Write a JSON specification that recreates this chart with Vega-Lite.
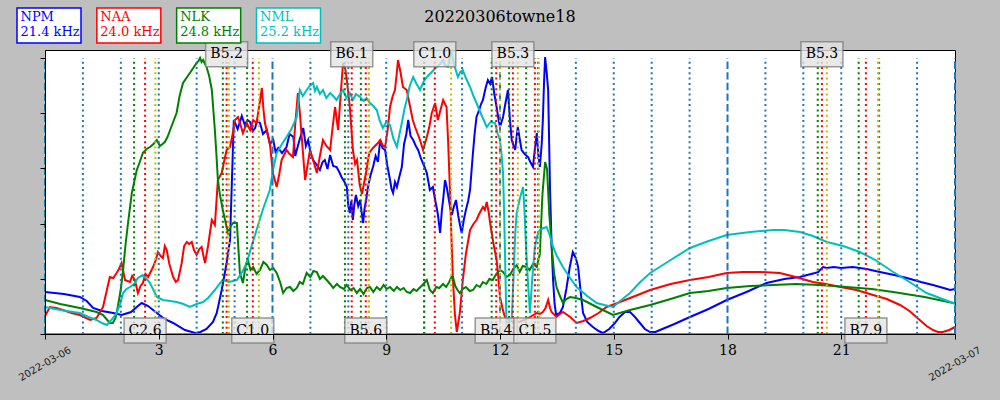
{
"$schema": "https://vega.github.io/schema/vega-lite/v6.json",
"width": 910, "height": 284,
"autosize": {"type": "none"},
"padding": {"left": 45, "top": 50, "right": 45, "bottom": 66},
"background": "#bfbfbf",
"config": {"view": {"stroke": "black", "strokeWidth": 1, "fill": "white"}},
"title": {"text": "20220306towne18", "font": "DejaVu Serif", "fontSize": 16, "fontWeight": "normal", "color": "black", "anchor": "middle", "frame": "group", "baseline": "alphabetic", "offset": -33.5},
"datasets": {
"vlf": [
{"s":"NPM","t":0,"v":42},{"s":"NPM","t":0.5,"v":40},{"s":"NPM","t":0.92,"v":37},{"s":"NPM","t":1.1,"v":33},{"s":"NPM","t":1.27,"v":26},{"s":"NPM","t":1.5,"v":23},{"s":"NPM","t":1.8,"v":21},{"s":"NPM","t":2.02,"v":19},{"s":"NPM","t":2.27,"v":22},{"s":"NPM","t":2.45,"v":28},{"s":"NPM","t":2.55,"v":31},{"s":"NPM","t":2.72,"v":28},{"s":"NPM","t":2.95,"v":21},{"s":"NPM","t":3.15,"v":15},{"s":"NPM","t":3.38,"v":11},{"s":"NPM","t":3.69,"v":4},{"s":"NPM","t":3.96,"v":1},{"s":"NPM","t":4.1,"v":2},{"s":"NPM","t":4.26,"v":5},{"s":"NPM","t":4.43,"v":12},{"s":"NPM","t":4.53,"v":21},{"s":"NPM","t":4.66,"v":44},{"s":"NPM","t":4.79,"v":71},{"s":"NPM","t":4.88,"v":94},{"s":"NPM","t":4.93,"v":154},{"s":"NPM","t":4.98,"v":214},{"s":"NPM","t":5.08,"v":205},{"s":"NPM","t":5.19,"v":218},{"s":"NPM","t":5.27,"v":209},{"s":"NPM","t":5.34,"v":214},{"s":"NPM","t":5.41,"v":212},{"s":"NPM","t":5.48,"v":203},{"s":"NPM","t":5.54,"v":206},{"s":"NPM","t":5.6,"v":214},{"s":"NPM","t":5.67,"v":211},{"s":"NPM","t":5.75,"v":200},{"s":"NPM","t":5.85,"v":204},{"s":"NPM","t":5.93,"v":190},{"s":"NPM","t":6.02,"v":194},{"s":"NPM","t":6.08,"v":182},{"s":"NPM","t":6.15,"v":186},{"s":"NPM","t":6.25,"v":181},{"s":"NPM","t":6.37,"v":187},{"s":"NPM","t":6.45,"v":200},{"s":"NPM","t":6.55,"v":197},{"s":"NPM","t":6.6,"v":178},{"s":"NPM","t":6.64,"v":184},{"s":"NPM","t":6.72,"v":195},{"s":"NPM","t":6.81,"v":206},{"s":"NPM","t":6.88,"v":188},{"s":"NPM","t":6.94,"v":194},{"s":"NPM","t":7.01,"v":180},{"s":"NPM","t":7.07,"v":174},{"s":"NPM","t":7.15,"v":170},{"s":"NPM","t":7.25,"v":164},{"s":"NPM","t":7.32,"v":172},{"s":"NPM","t":7.38,"v":174},{"s":"NPM","t":7.45,"v":165},{"s":"NPM","t":7.52,"v":179},{"s":"NPM","t":7.6,"v":168},{"s":"NPM","t":7.69,"v":167},{"s":"NPM","t":7.76,"v":162},{"s":"NPM","t":7.82,"v":157},{"s":"NPM","t":7.9,"v":152},{"s":"NPM","t":7.96,"v":147},{"s":"NPM","t":8.0,"v":128},{"s":"NPM","t":8.04,"v":121},{"s":"NPM","t":8.08,"v":133},{"s":"NPM","t":8.12,"v":114},{"s":"NPM","t":8.16,"v":130},{"s":"NPM","t":8.2,"v":139},{"s":"NPM","t":8.26,"v":128},{"s":"NPM","t":8.31,"v":134},{"s":"NPM","t":8.35,"v":122},{"s":"NPM","t":8.39,"v":111},{"s":"NPM","t":8.43,"v":126},{"s":"NPM","t":8.47,"v":134},{"s":"NPM","t":8.52,"v":147},{"s":"NPM","t":8.58,"v":158},{"s":"NPM","t":8.65,"v":167},{"s":"NPM","t":8.72,"v":178},{"s":"NPM","t":8.78,"v":172},{"s":"NPM","t":8.84,"v":194},{"s":"NPM","t":8.9,"v":186},{"s":"NPM","t":8.97,"v":184},{"s":"NPM","t":9.03,"v":168},{"s":"NPM","t":9.1,"v":154},{"s":"NPM","t":9.14,"v":145},{"s":"NPM","t":9.18,"v":141},{"s":"NPM","t":9.23,"v":152},{"s":"NPM","t":9.28,"v":147},{"s":"NPM","t":9.35,"v":158},{"s":"NPM","t":9.41,"v":167},{"s":"NPM","t":9.47,"v":190},{"s":"NPM","t":9.53,"v":200},{"s":"NPM","t":9.58,"v":214},{"s":"NPM","t":9.64,"v":198},{"s":"NPM","t":9.71,"v":194},{"s":"NPM","t":9.78,"v":188},{"s":"NPM","t":9.84,"v":184},{"s":"NPM","t":9.92,"v":175},{"s":"NPM","t":10.0,"v":168},{"s":"NPM","t":10.07,"v":161},{"s":"NPM","t":10.15,"v":144},{"s":"NPM","t":10.23,"v":147},{"s":"NPM","t":10.3,"v":132},{"s":"NPM","t":10.36,"v":120},{"s":"NPM","t":10.42,"v":101},{"s":"NPM","t":10.47,"v":125},{"s":"NPM","t":10.5,"v":134},{"s":"NPM","t":10.55,"v":154},{"s":"NPM","t":10.6,"v":146},{"s":"NPM","t":10.63,"v":139},{"s":"NPM","t":10.68,"v":128},{"s":"NPM","t":10.73,"v":119},{"s":"NPM","t":10.78,"v":127},{"s":"NPM","t":10.84,"v":134},{"s":"NPM","t":10.9,"v":118},{"s":"NPM","t":10.95,"v":108},{"s":"NPM","t":10.99,"v":101},{"s":"NPM","t":11.05,"v":115},{"s":"NPM","t":11.1,"v":124},{"s":"NPM","t":11.16,"v":133},{"s":"NPM","t":11.21,"v":144},{"s":"NPM","t":11.28,"v":178},{"s":"NPM","t":11.33,"v":200},{"s":"NPM","t":11.38,"v":217},{"s":"NPM","t":11.45,"v":224},{"s":"NPM","t":11.5,"v":230},{"s":"NPM","t":11.55,"v":234},{"s":"NPM","t":11.62,"v":246},{"s":"NPM","t":11.68,"v":254},{"s":"NPM","t":11.74,"v":250},{"s":"NPM","t":11.79,"v":257},{"s":"NPM","t":11.85,"v":240},{"s":"NPM","t":11.91,"v":227},{"s":"NPM","t":11.96,"v":215},{"s":"NPM","t":12.0,"v":207},{"s":"NPM","t":12.04,"v":212},{"s":"NPM","t":12.08,"v":217},{"s":"NPM","t":12.14,"v":230},{"s":"NPM","t":12.21,"v":244},{"s":"NPM","t":12.26,"v":215},{"s":"NPM","t":12.31,"v":194},{"s":"NPM","t":12.36,"v":188},{"s":"NPM","t":12.4,"v":184},{"s":"NPM","t":12.44,"v":198},{"s":"NPM","t":12.47,"v":207},{"s":"NPM","t":12.52,"v":195},{"s":"NPM","t":12.57,"v":184},{"s":"NPM","t":12.65,"v":180},{"s":"NPM","t":12.74,"v":177},{"s":"NPM","t":12.8,"v":172},{"s":"NPM","t":12.87,"v":167},{"s":"NPM","t":12.92,"v":185},{"s":"NPM","t":12.97,"v":201},{"s":"NPM","t":13.01,"v":180},{"s":"NPM","t":13.05,"v":167},{"s":"NPM","t":13.1,"v":190},{"s":"NPM","t":13.13,"v":214},{"s":"NPM","t":13.16,"v":250},{"s":"NPM","t":13.19,"v":277},{"s":"NPM","t":13.23,"v":262},{"s":"NPM","t":13.27,"v":244},{"s":"NPM","t":13.32,"v":144},{"s":"NPM","t":13.36,"v":90},{"s":"NPM","t":13.4,"v":54},{"s":"NPM","t":13.44,"v":30},{"s":"NPM","t":13.48,"v":19},{"s":"NPM","t":13.58,"v":21},{"s":"NPM","t":13.66,"v":27},{"s":"NPM","t":13.75,"v":45},{"s":"NPM","t":13.84,"v":67},{"s":"NPM","t":13.92,"v":82},{"s":"NPM","t":14.0,"v":76},{"s":"NPM","t":14.06,"v":67},{"s":"NPM","t":14.12,"v":45},{"s":"NPM","t":14.19,"v":21},{"s":"NPM","t":14.3,"v":12},{"s":"NPM","t":14.45,"v":7},{"s":"NPM","t":14.6,"v":3},{"s":"NPM","t":14.72,"v":1},{"s":"NPM","t":14.88,"v":5},{"s":"NPM","t":15.03,"v":11},{"s":"NPM","t":15.15,"v":17},{"s":"NPM","t":15.3,"v":22},{"s":"NPM","t":15.43,"v":22},{"s":"NPM","t":15.56,"v":17},{"s":"NPM","t":15.69,"v":11},{"s":"NPM","t":15.82,"v":5},{"s":"NPM","t":15.96,"v":2},{"s":"NPM","t":16.1,"v":2},{"s":"NPM","t":16.22,"v":4},{"s":"NPM","t":16.6,"v":10},{"s":"NPM","t":17.01,"v":17},{"s":"NPM","t":17.5,"v":25},{"s":"NPM","t":17.98,"v":34},{"s":"NPM","t":18.5,"v":42},{"s":"NPM","t":19.03,"v":51},{"s":"NPM","t":19.5,"v":55},{"s":"NPM","t":19.91,"v":57},{"s":"NPM","t":20.1,"v":59},{"s":"NPM","t":20.31,"v":61},{"s":"NPM","t":20.4,"v":62},{"s":"NPM","t":20.44,"v":64},{"s":"NPM","t":20.52,"v":67},{"s":"NPM","t":20.62,"v":66},{"s":"NPM","t":20.8,"v":67},{"s":"NPM","t":21.0,"v":66},{"s":"NPM","t":21.3,"v":67},{"s":"NPM","t":21.67,"v":65},{"s":"NPM","t":22.02,"v":62},{"s":"NPM","t":22.4,"v":59},{"s":"NPM","t":22.73,"v":56},{"s":"NPM","t":23.1,"v":52},{"s":"NPM","t":23.42,"v":49},{"s":"NPM","t":23.7,"v":46},{"s":"NPM","t":23.87,"v":44},{"s":"NPM","t":24,"v":45},
{"s":"NAA","t":0,"v":18},{"s":"NAA","t":0.13,"v":27},{"s":"NAA","t":0.3,"v":26},{"s":"NAA","t":0.47,"v":24},{"s":"NAA","t":0.7,"v":21},{"s":"NAA","t":0.92,"v":19},{"s":"NAA","t":1.19,"v":14},{"s":"NAA","t":1.36,"v":16},{"s":"NAA","t":1.53,"v":27},{"s":"NAA","t":1.62,"v":42},{"s":"NAA","t":1.71,"v":57},{"s":"NAA","t":1.8,"v":56},{"s":"NAA","t":1.89,"v":61},{"s":"NAA","t":1.95,"v":65},{"s":"NAA","t":2.02,"v":71},{"s":"NAA","t":2.11,"v":54},{"s":"NAA","t":2.24,"v":52},{"s":"NAA","t":2.3,"v":58},{"s":"NAA","t":2.37,"v":54},{"s":"NAA","t":2.45,"v":41},{"s":"NAA","t":2.52,"v":48},{"s":"NAA","t":2.58,"v":51},{"s":"NAA","t":2.65,"v":60},{"s":"NAA","t":2.72,"v":57},{"s":"NAA","t":2.85,"v":67},{"s":"NAA","t":2.92,"v":74},{"s":"NAA","t":2.98,"v":82},{"s":"NAA","t":3.05,"v":78},{"s":"NAA","t":3.11,"v":76},{"s":"NAA","t":3.16,"v":88},{"s":"NAA","t":3.21,"v":84},{"s":"NAA","t":3.28,"v":70},{"s":"NAA","t":3.38,"v":57},{"s":"NAA","t":3.45,"v":52},{"s":"NAA","t":3.51,"v":54},{"s":"NAA","t":3.6,"v":70},{"s":"NAA","t":3.67,"v":88},{"s":"NAA","t":3.74,"v":92},{"s":"NAA","t":3.8,"v":90},{"s":"NAA","t":3.87,"v":92},{"s":"NAA","t":3.93,"v":84},{"s":"NAA","t":4.0,"v":79},{"s":"NAA","t":4.07,"v":85},{"s":"NAA","t":4.13,"v":87},{"s":"NAA","t":4.18,"v":78},{"s":"NAA","t":4.22,"v":71},{"s":"NAA","t":4.3,"v":88},{"s":"NAA","t":4.4,"v":114},{"s":"NAA","t":4.48,"v":109},{"s":"NAA","t":4.56,"v":154},{"s":"NAA","t":4.66,"v":161},{"s":"NAA","t":4.72,"v":172},{"s":"NAA","t":4.79,"v":184},{"s":"NAA","t":4.88,"v":187},{"s":"NAA","t":4.95,"v":200},{"s":"NAA","t":5.01,"v":214},{"s":"NAA","t":5.09,"v":217},{"s":"NAA","t":5.15,"v":210},{"s":"NAA","t":5.22,"v":201},{"s":"NAA","t":5.32,"v":211},{"s":"NAA","t":5.41,"v":204},{"s":"NAA","t":5.49,"v":214},{"s":"NAA","t":5.58,"v":211},{"s":"NAA","t":5.65,"v":228},{"s":"NAA","t":5.72,"v":246},{"s":"NAA","t":5.76,"v":225},{"s":"NAA","t":5.8,"v":211},{"s":"NAA","t":5.87,"v":200},{"s":"NAA","t":5.93,"v":191},{"s":"NAA","t":6.01,"v":161},{"s":"NAA","t":6.11,"v":147},{"s":"NAA","t":6.18,"v":160},{"s":"NAA","t":6.24,"v":174},{"s":"NAA","t":6.37,"v":184},{"s":"NAA","t":6.45,"v":180},{"s":"NAA","t":6.54,"v":177},{"s":"NAA","t":6.6,"v":210},{"s":"NAA","t":6.67,"v":241},{"s":"NAA","t":6.72,"v":222},{"s":"NAA","t":6.77,"v":197},{"s":"NAA","t":6.86,"v":154},{"s":"NAA","t":6.92,"v":168},{"s":"NAA","t":6.99,"v":184},{"s":"NAA","t":7.07,"v":174},{"s":"NAA","t":7.17,"v":161},{"s":"NAA","t":7.25,"v":178},{"s":"NAA","t":7.33,"v":194},{"s":"NAA","t":7.42,"v":188},{"s":"NAA","t":7.52,"v":184},{"s":"NAA","t":7.58,"v":205},{"s":"NAA","t":7.65,"v":227},{"s":"NAA","t":7.73,"v":204},{"s":"NAA","t":7.8,"v":240},{"s":"NAA","t":7.86,"v":271},{"s":"NAA","t":7.92,"v":265},{"s":"NAA","t":7.96,"v":254},{"s":"NAA","t":8.04,"v":227},{"s":"NAA","t":8.12,"v":184},{"s":"NAA","t":8.18,"v":170},{"s":"NAA","t":8.23,"v":174},{"s":"NAA","t":8.3,"v":149},{"s":"NAA","t":8.36,"v":140},{"s":"NAA","t":8.42,"v":152},{"s":"NAA","t":8.48,"v":164},{"s":"NAA","t":8.55,"v":181},{"s":"NAA","t":8.65,"v":186},{"s":"NAA","t":8.78,"v":191},{"s":"NAA","t":8.84,"v":194},{"s":"NAA","t":8.9,"v":189},{"s":"NAA","t":8.97,"v":187},{"s":"NAA","t":9.04,"v":205},{"s":"NAA","t":9.1,"v":227},{"s":"NAA","t":9.17,"v":238},{"s":"NAA","t":9.23,"v":244},{"s":"NAA","t":9.28,"v":262},{"s":"NAA","t":9.31,"v":274},{"s":"NAA","t":9.38,"v":261},{"s":"NAA","t":9.44,"v":247},{"s":"NAA","t":9.54,"v":244},{"s":"NAA","t":9.63,"v":227},{"s":"NAA","t":9.7,"v":214},{"s":"NAA","t":9.76,"v":207},{"s":"NAA","t":9.83,"v":200},{"s":"NAA","t":9.89,"v":194},{"s":"NAA","t":9.97,"v":184},{"s":"NAA","t":10.07,"v":197},{"s":"NAA","t":10.14,"v":208},{"s":"NAA","t":10.2,"v":221},{"s":"NAA","t":10.29,"v":231},{"s":"NAA","t":10.36,"v":214},{"s":"NAA","t":10.43,"v":224},{"s":"NAA","t":10.5,"v":234},{"s":"NAA","t":10.59,"v":227},{"s":"NAA","t":10.63,"v":194},{"s":"NAA","t":10.68,"v":144},{"s":"NAA","t":10.72,"v":95},{"s":"NAA","t":10.76,"v":54},{"s":"NAA","t":10.81,"v":20},{"s":"NAA","t":10.86,"v":2},{"s":"NAA","t":10.94,"v":21},{"s":"NAA","t":11.02,"v":54},{"s":"NAA","t":11.1,"v":80},{"s":"NAA","t":11.21,"v":104},{"s":"NAA","t":11.3,"v":110},{"s":"NAA","t":11.38,"v":114},{"s":"NAA","t":11.45,"v":120},{"s":"NAA","t":11.55,"v":127},{"s":"NAA","t":11.6,"v":124},{"s":"NAA","t":11.65,"v":132},{"s":"NAA","t":11.7,"v":122},{"s":"NAA","t":11.74,"v":111},{"s":"NAA","t":11.82,"v":92},{"s":"NAA","t":11.91,"v":74},{"s":"NAA","t":11.96,"v":55},{"s":"NAA","t":12.0,"v":37},{"s":"NAA","t":12.07,"v":25},{"s":"NAA","t":12.13,"v":17},{"s":"NAA","t":12.3,"v":13},{"s":"NAA","t":12.5,"v":12},{"s":"NAA","t":12.65,"v":14},{"s":"NAA","t":12.79,"v":17},{"s":"NAA","t":12.97,"v":21},{"s":"NAA","t":13.05,"v":20},{"s":"NAA","t":13.13,"v":22},{"s":"NAA","t":13.2,"v":26},{"s":"NAA","t":13.27,"v":34},{"s":"NAA","t":13.32,"v":26},{"s":"NAA","t":13.36,"v":22},{"s":"NAA","t":13.49,"v":17},{"s":"NAA","t":13.58,"v":20},{"s":"NAA","t":13.66,"v":22},{"s":"NAA","t":13.85,"v":17},{"s":"NAA","t":14.02,"v":11},{"s":"NAA","t":14.2,"v":13},{"s":"NAA","t":14.37,"v":16},{"s":"NAA","t":14.6,"v":21},{"s":"NAA","t":14.81,"v":27},{"s":"NAA","t":15.1,"v":31},{"s":"NAA","t":15.43,"v":36},{"s":"NAA","t":15.7,"v":40},{"s":"NAA","t":15.96,"v":44},{"s":"NAA","t":16.5,"v":50},{"s":"NAA","t":17.01,"v":54},{"s":"NAA","t":17.5,"v":57},{"s":"NAA","t":17.98,"v":61},{"s":"NAA","t":18.4,"v":62},{"s":"NAA","t":18.86,"v":62},{"s":"NAA","t":19.38,"v":61},{"s":"NAA","t":19.8,"v":57},{"s":"NAA","t":20.25,"v":52},{"s":"NAA","t":20.6,"v":50},{"s":"NAA","t":20.98,"v":47},{"s":"NAA","t":21.4,"v":44},{"s":"NAA","t":21.84,"v":39},{"s":"NAA","t":22.2,"v":35},{"s":"NAA","t":22.55,"v":29},{"s":"NAA","t":22.8,"v":23},{"s":"NAA","t":23.07,"v":14},{"s":"NAA","t":23.25,"v":8},{"s":"NAA","t":23.42,"v":4},{"s":"NAA","t":23.55,"v":2},{"s":"NAA","t":23.68,"v":2},{"s":"NAA","t":23.85,"v":4},{"s":"NAA","t":24,"v":7},
{"s":"NLK","t":0,"v":34},{"s":"NLK","t":0.4,"v":30},{"s":"NLK","t":0.92,"v":26},{"s":"NLK","t":1.36,"v":22},{"s":"NLK","t":1.53,"v":19},{"s":"NLK","t":1.71,"v":11},{"s":"NLK","t":1.79,"v":11},{"s":"NLK","t":1.86,"v":16},{"s":"NLK","t":1.92,"v":27},{"s":"NLK","t":2.0,"v":45},{"s":"NLK","t":2.06,"v":64},{"s":"NLK","t":2.12,"v":88},{"s":"NLK","t":2.19,"v":111},{"s":"NLK","t":2.29,"v":141},{"s":"NLK","t":2.42,"v":164},{"s":"NLK","t":2.5,"v":172},{"s":"NLK","t":2.58,"v":181},{"s":"NLK","t":2.68,"v":185},{"s":"NLK","t":2.77,"v":187},{"s":"NLK","t":2.86,"v":190},{"s":"NLK","t":2.95,"v":194},{"s":"NLK","t":3.03,"v":188},{"s":"NLK","t":3.1,"v":190},{"s":"NLK","t":3.16,"v":192},{"s":"NLK","t":3.23,"v":197},{"s":"NLK","t":3.3,"v":204},{"s":"NLK","t":3.38,"v":212},{"s":"NLK","t":3.47,"v":221},{"s":"NLK","t":3.55,"v":238},{"s":"NLK","t":3.64,"v":251},{"s":"NLK","t":3.73,"v":256},{"s":"NLK","t":3.82,"v":261},{"s":"NLK","t":3.91,"v":266},{"s":"NLK","t":4.0,"v":271},{"s":"NLK","t":4.05,"v":273},{"s":"NLK","t":4.09,"v":276},{"s":"NLK","t":4.13,"v":272},{"s":"NLK","t":4.17,"v":274},{"s":"NLK","t":4.22,"v":270},{"s":"NLK","t":4.26,"v":267},{"s":"NLK","t":4.33,"v":258},{"s":"NLK","t":4.4,"v":244},{"s":"NLK","t":4.48,"v":204},{"s":"NLK","t":4.52,"v":180},{"s":"NLK","t":4.56,"v":154},{"s":"NLK","t":4.61,"v":140},{"s":"NLK","t":4.69,"v":124},{"s":"NLK","t":4.76,"v":112},{"s":"NLK","t":4.83,"v":101},{"s":"NLK","t":4.9,"v":108},{"s":"NLK","t":4.96,"v":111},{"s":"NLK","t":5.06,"v":111},{"s":"NLK","t":5.14,"v":61},{"s":"NLK","t":5.22,"v":51},{"s":"NLK","t":5.3,"v":70},{"s":"NLK","t":5.35,"v":74},{"s":"NLK","t":5.42,"v":64},{"s":"NLK","t":5.49,"v":67},{"s":"NLK","t":5.58,"v":60},{"s":"NLK","t":5.67,"v":64},{"s":"NLK","t":5.76,"v":72},{"s":"NLK","t":5.85,"v":69},{"s":"NLK","t":5.93,"v":64},{"s":"NLK","t":6.02,"v":66},{"s":"NLK","t":6.11,"v":61},{"s":"NLK","t":6.2,"v":52},{"s":"NLK","t":6.28,"v":41},{"s":"NLK","t":6.37,"v":46},{"s":"NLK","t":6.46,"v":47},{"s":"NLK","t":6.55,"v":43},{"s":"NLK","t":6.64,"v":46},{"s":"NLK","t":6.72,"v":52},{"s":"NLK","t":6.8,"v":50},{"s":"NLK","t":6.9,"v":61},{"s":"NLK","t":7.0,"v":57},{"s":"NLK","t":7.08,"v":63},{"s":"NLK","t":7.17,"v":62},{"s":"NLK","t":7.25,"v":55},{"s":"NLK","t":7.33,"v":58},{"s":"NLK","t":7.43,"v":54},{"s":"NLK","t":7.52,"v":50},{"s":"NLK","t":7.6,"v":46},{"s":"NLK","t":7.7,"v":50},{"s":"NLK","t":7.78,"v":47},{"s":"NLK","t":7.88,"v":45},{"s":"NLK","t":7.96,"v":49},{"s":"NLK","t":8.05,"v":44},{"s":"NLK","t":8.14,"v":46},{"s":"NLK","t":8.22,"v":41},{"s":"NLK","t":8.31,"v":45},{"s":"NLK","t":8.4,"v":40},{"s":"NLK","t":8.49,"v":46},{"s":"NLK","t":8.57,"v":47},{"s":"NLK","t":8.66,"v":42},{"s":"NLK","t":8.75,"v":47},{"s":"NLK","t":8.84,"v":44},{"s":"NLK","t":8.93,"v":49},{"s":"NLK","t":9.01,"v":45},{"s":"NLK","t":9.1,"v":47},{"s":"NLK","t":9.2,"v":43},{"s":"NLK","t":9.28,"v":47},{"s":"NLK","t":9.37,"v":44},{"s":"NLK","t":9.46,"v":46},{"s":"NLK","t":9.54,"v":42},{"s":"NLK","t":9.63,"v":41},{"s":"NLK","t":9.72,"v":45},{"s":"NLK","t":9.8,"v":43},{"s":"NLK","t":9.9,"v":47},{"s":"NLK","t":9.98,"v":50},{"s":"NLK","t":10.07,"v":54},{"s":"NLK","t":10.15,"v":44},{"s":"NLK","t":10.23,"v":41},{"s":"NLK","t":10.32,"v":47},{"s":"NLK","t":10.4,"v":46},{"s":"NLK","t":10.5,"v":50},{"s":"NLK","t":10.58,"v":47},{"s":"NLK","t":10.66,"v":52},{"s":"NLK","t":10.72,"v":57},{"s":"NLK","t":10.76,"v":57},{"s":"NLK","t":10.82,"v":48},{"s":"NLK","t":10.88,"v":44},{"s":"NLK","t":10.94,"v":41},{"s":"NLK","t":11.02,"v":45},{"s":"NLK","t":11.1,"v":47},{"s":"NLK","t":11.2,"v":43},{"s":"NLK","t":11.29,"v":44},{"s":"NLK","t":11.38,"v":49},{"s":"NLK","t":11.47,"v":47},{"s":"NLK","t":11.55,"v":52},{"s":"NLK","t":11.64,"v":50},{"s":"NLK","t":11.72,"v":55},{"s":"NLK","t":11.81,"v":54},{"s":"NLK","t":11.9,"v":60},{"s":"NLK","t":12.0,"v":64},{"s":"NLK","t":12.08,"v":62},{"s":"NLK","t":12.17,"v":57},{"s":"NLK","t":12.26,"v":59},{"s":"NLK","t":12.35,"v":65},{"s":"NLK","t":12.44,"v":69},{"s":"NLK","t":12.52,"v":62},{"s":"NLK","t":12.6,"v":68},{"s":"NLK","t":12.7,"v":67},{"s":"NLK","t":12.78,"v":64},{"s":"NLK","t":12.87,"v":70},{"s":"NLK","t":12.97,"v":67},{"s":"NLK","t":13.05,"v":80},{"s":"NLK","t":13.12,"v":140},{"s":"NLK","t":13.19,"v":172},{"s":"NLK","t":13.24,"v":165},{"s":"NLK","t":13.3,"v":120},{"s":"NLK","t":13.37,"v":84},{"s":"NLK","t":13.43,"v":60},{"s":"NLK","t":13.49,"v":47},{"s":"NLK","t":13.58,"v":38},{"s":"NLK","t":13.66,"v":31},{"s":"NLK","t":13.75,"v":35},{"s":"NLK","t":13.85,"v":37},{"s":"NLK","t":14.0,"v":36},{"s":"NLK","t":14.19,"v":34},{"s":"NLK","t":14.55,"v":27},{"s":"NLK","t":14.98,"v":19},{"s":"NLK","t":15.43,"v":24},{"s":"NLK","t":15.96,"v":29},{"s":"NLK","t":16.5,"v":35},{"s":"NLK","t":17.01,"v":41},{"s":"NLK","t":17.5,"v":43},{"s":"NLK","t":17.98,"v":46},{"s":"NLK","t":18.6,"v":48},{"s":"NLK","t":19.2,"v":49},{"s":"NLK","t":19.8,"v":50},{"s":"NLK","t":20.44,"v":49},{"s":"NLK","t":21.14,"v":47},{"s":"NLK","t":21.8,"v":45},{"s":"NLK","t":22.37,"v":42},{"s":"NLK","t":23.2,"v":37},{"s":"NLK","t":23.95,"v":31},{"s":"NLK","t":24,"v":31},
{"s":"NML","t":0,"v":27},{"s":"NML","t":0.4,"v":24},{"s":"NML","t":0.92,"v":21},{"s":"NML","t":1.15,"v":17},{"s":"NML","t":1.36,"v":14},{"s":"NML","t":1.5,"v":11},{"s":"NML","t":1.63,"v":9},{"s":"NML","t":1.75,"v":14},{"s":"NML","t":1.89,"v":21},{"s":"NML","t":1.98,"v":30},{"s":"NML","t":2.06,"v":41},{"s":"NML","t":2.15,"v":45},{"s":"NML","t":2.24,"v":47},{"s":"NML","t":2.35,"v":50},{"s":"NML","t":2.45,"v":56},{"s":"NML","t":2.58,"v":59},{"s":"NML","t":2.68,"v":55},{"s":"NML","t":2.77,"v":51},{"s":"NML","t":2.86,"v":44},{"s":"NML","t":2.95,"v":37},{"s":"NML","t":3.11,"v":34},{"s":"NML","t":3.3,"v":33},{"s":"NML","t":3.47,"v":32},{"s":"NML","t":3.65,"v":30},{"s":"NML","t":3.82,"v":27},{"s":"NML","t":4.0,"v":30},{"s":"NML","t":4.17,"v":32},{"s":"NML","t":4.3,"v":36},{"s":"NML","t":4.48,"v":44},{"s":"NML","t":4.6,"v":50},{"s":"NML","t":4.69,"v":54},{"s":"NML","t":4.85,"v":52},{"s":"NML","t":5.06,"v":54},{"s":"NML","t":5.2,"v":62},{"s":"NML","t":5.32,"v":71},{"s":"NML","t":5.45,"v":88},{"s":"NML","t":5.58,"v":104},{"s":"NML","t":5.75,"v":125},{"s":"NML","t":5.93,"v":144},{"s":"NML","t":6.02,"v":165},{"s":"NML","t":6.11,"v":181},{"s":"NML","t":6.25,"v":190},{"s":"NML","t":6.37,"v":197},{"s":"NML","t":6.5,"v":205},{"s":"NML","t":6.64,"v":217},{"s":"NML","t":6.68,"v":232},{"s":"NML","t":6.72,"v":244},{"s":"NML","t":6.8,"v":238},{"s":"NML","t":6.9,"v":244},{"s":"NML","t":6.98,"v":248},{"s":"NML","t":7.07,"v":251},{"s":"NML","t":7.12,"v":243},{"s":"NML","t":7.17,"v":247},{"s":"NML","t":7.25,"v":240},{"s":"NML","t":7.33,"v":244},{"s":"NML","t":7.42,"v":236},{"s":"NML","t":7.52,"v":241},{"s":"NML","t":7.6,"v":238},{"s":"NML","t":7.69,"v":234},{"s":"NML","t":7.78,"v":240},{"s":"NML","t":7.86,"v":244},{"s":"NML","t":7.95,"v":236},{"s":"NML","t":8.04,"v":241},{"s":"NML","t":8.12,"v":234},{"s":"NML","t":8.2,"v":240},{"s":"NML","t":8.31,"v":237},{"s":"NML","t":8.4,"v":233},{"s":"NML","t":8.48,"v":236},{"s":"NML","t":8.57,"v":231},{"s":"NML","t":8.66,"v":228},{"s":"NML","t":8.75,"v":224},{"s":"NML","t":8.83,"v":213},{"s":"NML","t":8.91,"v":206},{"s":"NML","t":9.0,"v":212},{"s":"NML","t":9.1,"v":209},{"s":"NML","t":9.19,"v":195},{"s":"NML","t":9.28,"v":187},{"s":"NML","t":9.35,"v":200},{"s":"NML","t":9.41,"v":211},{"s":"NML","t":9.48,"v":225},{"s":"NML","t":9.54,"v":234},{"s":"NML","t":9.62,"v":248},{"s":"NML","t":9.71,"v":257},{"s":"NML","t":9.8,"v":250},{"s":"NML","t":9.89,"v":244},{"s":"NML","t":9.98,"v":252},{"s":"NML","t":10.07,"v":257},{"s":"NML","t":10.2,"v":262},{"s":"NML","t":10.33,"v":267},{"s":"NML","t":10.42,"v":270},{"s":"NML","t":10.5,"v":274},{"s":"NML","t":10.56,"v":268},{"s":"NML","t":10.63,"v":267},{"s":"NML","t":10.68,"v":276},{"s":"NML","t":10.73,"v":281},{"s":"NML","t":10.8,"v":268},{"s":"NML","t":10.89,"v":257},{"s":"NML","t":10.95,"v":262},{"s":"NML","t":11.02,"v":264},{"s":"NML","t":11.1,"v":256},{"s":"NML","t":11.21,"v":247},{"s":"NML","t":11.3,"v":238},{"s":"NML","t":11.38,"v":231},{"s":"NML","t":11.5,"v":220},{"s":"NML","t":11.65,"v":207},{"s":"NML","t":11.75,"v":212},{"s":"NML","t":11.87,"v":211},{"s":"NML","t":11.94,"v":200},{"s":"NML","t":12.0,"v":194},{"s":"NML","t":12.04,"v":180},{"s":"NML","t":12.08,"v":161},{"s":"NML","t":12.11,"v":120},{"s":"NML","t":12.13,"v":84},{"s":"NML","t":12.17,"v":11},{"s":"NML","t":12.24,"v":13},{"s":"NML","t":12.31,"v":14},{"s":"NML","t":12.36,"v":60},{"s":"NML","t":12.4,"v":100},{"s":"NML","t":12.44,"v":121},{"s":"NML","t":12.52,"v":135},{"s":"NML","t":12.61,"v":147},{"s":"NML","t":12.65,"v":120},{"s":"NML","t":12.69,"v":84},{"s":"NML","t":12.74,"v":50},{"s":"NML","t":12.79,"v":21},{"s":"NML","t":12.85,"v":55},{"s":"NML","t":12.92,"v":87},{"s":"NML","t":12.98,"v":98},{"s":"NML","t":13.05,"v":104},{"s":"NML","t":13.15,"v":106},{"s":"NML","t":13.23,"v":107},{"s":"NML","t":13.3,"v":100},{"s":"NML","t":13.4,"v":87},{"s":"NML","t":13.5,"v":78},{"s":"NML","t":13.66,"v":67},{"s":"NML","t":13.85,"v":56},{"s":"NML","t":14.02,"v":47},{"s":"NML","t":14.3,"v":38},{"s":"NML","t":14.55,"v":31},{"s":"NML","t":14.75,"v":29},{"s":"NML","t":14.98,"v":27},{"s":"NML","t":15.2,"v":34},{"s":"NML","t":15.43,"v":41},{"s":"NML","t":15.7,"v":52},{"s":"NML","t":15.96,"v":61},{"s":"NML","t":16.5,"v":74},{"s":"NML","t":17.01,"v":86},{"s":"NML","t":17.5,"v":93},{"s":"NML","t":17.98,"v":99},{"s":"NML","t":18.6,"v":102},{"s":"NML","t":19.2,"v":104},{"s":"NML","t":19.5,"v":104},{"s":"NML","t":19.91,"v":102},{"s":"NML","t":20.25,"v":98},{"s":"NML","t":20.62,"v":92},{"s":"NML","t":21.05,"v":88},{"s":"NML","t":21.49,"v":82},{"s":"NML","t":21.9,"v":74},{"s":"NML","t":22.37,"v":62},{"s":"NML","t":22.8,"v":52},{"s":"NML","t":23.25,"v":41},{"s":"NML","t":23.6,"v":36},{"s":"NML","t":23.95,"v":31},{"s":"NML","t":24,"v":30}
],
"hours": [{"t":0,"k":"dash"},{"t":1,"k":"dot"},{"t":2,"k":"dot"},{"t":3,"k":"dot"},{"t":4,"k":"dot"},{"t":5,"k":"dot"},{"t":6,"k":"dash"},{"t":7,"k":"dot"},{"t":8,"k":"dot"},{"t":9,"k":"dot"},{"t":10,"k":"dot"},{"t":11,"k":"dot"},{"t":12,"k":"dash"},{"t":13,"k":"dot"},{"t":14,"k":"dot"},{"t":15,"k":"dot"},{"t":16,"k":"dot"},{"t":17,"k":"dot"},{"t":18,"k":"dash"},{"t":19,"k":"dot"},{"t":20,"k":"dot"},{"t":21,"k":"dot"},{"t":22,"k":"dot"},{"t":23,"k":"dot"},{"t":24,"k":"dash"}],
"flares": [{"t":2.35,"k":"start"},{"t":2.64,"k":"peak"},{"t":2.91,"k":"end"},{"t":4.69,"k":"start"},{"t":4.79,"k":"peak"},{"t":4.85,"k":"end"},{"t":5.33,"k":"start"},{"t":5.48,"k":"peak"},{"t":5.64,"k":"end"},{"t":7.91,"k":"start"},{"t":8.09,"k":"peak"},{"t":8.54,"k":"end"},{"t":8.33,"k":"start"},{"t":8.46,"k":"peak"},{"t":8.54,"k":"end"},{"t":10.0,"k":"start"},{"t":10.28,"k":"peak"},{"t":10.71,"k":"end"},{"t":11.78,"k":"start"},{"t":11.9,"k":"peak"},{"t":12.0,"k":"end"},{"t":12.24,"k":"start"},{"t":12.34,"k":"peak"},{"t":12.47,"k":"end"},{"t":12.69,"k":"start"},{"t":12.92,"k":"peak"},{"t":13.03,"k":"end"},{"t":20.38,"k":"start"},{"t":20.49,"k":"peak"},{"t":20.62,"k":"end"},{"t":21.46,"k":"start"},{"t":21.65,"k":"peak"},{"t":21.97,"k":"end"}],
"labels": [{"t":2.64,"cls":"C2.6","pos":"bottom"},{"t":4.79,"cls":"B5.2","pos":"top"},{"t":5.48,"cls":"C1.0","pos":"bottom"},{"t":8.09,"cls":"B6.1","pos":"top"},{"t":8.46,"cls":"B5.6","pos":"bottom"},{"t":10.28,"cls":"C1.0","pos":"top"},{"t":11.9,"cls":"B5.4","pos":"bottom"},{"t":12.34,"cls":"B5.3","pos":"top"},{"t":12.92,"cls":"C1.5","pos":"bottom"},{"t":20.49,"cls":"B5.3","pos":"top"},{"t":21.65,"cls":"B7.9","pos":"bottom"}],
"legend": [{"s":"NPM","label":"NPM\n21.4 kHz"},{"s":"NAA","label":"NAA\n24.0 kHz"},{"s":"NLK","label":"NLK\n24.8 kHz"},{"s":"NML","label":"NML\n25.2 kHz"}],
"dates": [{"t":0,"lab":"2022-03-06"},{"t":24,"lab":"2022-03-07"}]
},
"resolve": {"scale": {"x": "independent"}, "axis": {"x": "independent"}},
"layer": [
{"layer": [
{"data": {"name": "vlf"}, "mark": {"type": "line", "strokeWidth": 2},
 "encoding": {
  "x": {"field": "t", "type": "quantitative", "title": null, "scale": {"domain": [0, 24], "nice": false, "zero": false},
        "axis": {"values": [0,3,6,9,12,15,18,21,24], "labelExpr": "datum.value == 0 || datum.value == 24 ? '' : datum.label", "grid": false, "labelFont": "DejaVu Serif", "labelFontSize": 14, "labelColor": "black", "tickColor": "black", "domainColor": "black", "tickSize": 5, "labelPadding": 4, "zindex": 1}},
  "y": {"field": "v", "type": "quantitative", "title": null, "scale": {"domain": [0, 284], "nice": false, "zero": false},
        "axis": {"values": [0,55.2,110.4,165.6,220.8,276], "labels": false, "grid": false, "tickColor": "black", "domainColor": "black", "tickSize": 5, "zindex": 1}},
  "color": {"field": "s", "type": "nominal", "scale": {"domain": ["NPM","NAA","NLK","NML","start","peak","end"], "range": ["#0000ff","#ff0000","#008000","#00bfbf","#008000","#ff0000","#bfbf00"]}, "legend": null}
 }},
{"data": {"name": "hours"}, "mark": {"type": "rule", "strokeWidth": 2, "color": "#1f77b4"},
 "encoding": {"x": {"field": "t", "type": "quantitative", "title": null}, "y": {"datum": 0}, "y2": {"datum": 276},
  "strokeDash": {"field": "k", "type": "nominal", "scale": {"domain": ["dot","dash"], "range": [[2,3.3],[7.4,3.2]]}, "legend": null}}},
{"data": {"name": "flares"}, "mark": {"type": "rule", "strokeWidth": 2, "strokeDash": [2,3.3]},
 "encoding": {"x": {"field": "t", "type": "quantitative", "title": null}, "y": {"datum": 0}, "y2": {"datum": 276}, "color": {"field": "k", "type": "nominal", "legend": null}}},
{"data": {"values": [{}]}, "mark": {"type": "rule", "strokeWidth": 1.5, "color": "#1f77b4"}, "encoding": {"y": {"datum": 0}}},
{"data": {"name": "labels"}, "transform": [{"filter": "datum.pos == 'top'"}],
 "mark": {"type": "point", "shape": "M-1,-0.595H1V0.595H-1Z", "size": 1764, "filled": true, "fill": "#e3e3e3", "fillOpacity": 0.8, "stroke": "#808080", "strokeOpacity": 0.8, "strokeWidth": 1.5, "opacity": 1},
 "encoding": {"x": {"field": "t", "type": "quantitative", "title": null}, "y": {"datum": 279.8}}},
{"data": {"name": "labels"}, "transform": [{"filter": "datum.pos == 'bottom'"}],
 "mark": {"type": "point", "shape": "M-1,-0.595H1V0.595H-1Z", "size": 1764, "filled": true, "fill": "#e3e3e3", "fillOpacity": 0.8, "stroke": "#808080", "strokeOpacity": 0.8, "strokeWidth": 1.5, "opacity": 1},
 "encoding": {"x": {"field": "t", "type": "quantitative", "title": null}, "y": {"datum": 3.5}}},
{"data": {"name": "labels"}, "transform": [{"filter": "datum.pos == 'top'"}],
 "mark": {"type": "text", "font": "DejaVu Serif", "fontSize": 14, "align": "center", "baseline": "middle", "color": "black"},
 "encoding": {"x": {"field": "t", "type": "quantitative", "title": null}, "y": {"datum": 279.8}, "text": {"field": "cls"}}},
{"data": {"name": "labels"}, "transform": [{"filter": "datum.pos == 'bottom'"}],
 "mark": {"type": "text", "font": "DejaVu Serif", "fontSize": 14, "align": "center", "baseline": "middle", "color": "black"},
 "encoding": {"x": {"field": "t", "type": "quantitative", "title": null}, "y": {"datum": 3.5}, "text": {"field": "cls"}}},
{"data": {"name": "dates"},
 "mark": {"type": "text", "font": "DejaVu Sans", "fontSize": 10, "angle": 330, "align": "center", "baseline": "middle", "color": "#222222"},
 "encoding": {"x": {"field": "t", "type": "quantitative", "title": null}, "y": {"datum": -30}, "text": {"field": "lab"}}}
]},
{"data": {"name": "legend"}, "layer": [
{"mark": {"type": "point", "shape": "M-1,-0.547H1V0.547H-1Z", "size": 4096, "filled": true, "fill": "white", "strokeWidth": 1.5, "opacity": 1},
 "encoding": {"x": {"field": "s", "type": "nominal", "axis": null, "scale": {"type": "point", "domain": ["NPM","NAA","NLK","NML"], "range": [4, 243.5], "padding": 0}},
  "y": {"datum": 308.5},
  "stroke": {"field": "s", "type": "nominal", "scale": {"domain": ["NPM","NAA","NLK","NML"], "range": ["#0000ff","#ff0000","#008000","#00bfbf"]}, "legend": null}}},
{"mark": {"type": "text", "font": "DejaVu Serif", "fontSize": 13, "align": "left", "baseline": "top", "dx": -28.5, "dy": -14.1, "lineBreak": "\n", "lineHeight": 14.5},
 "encoding": {"x": {"field": "s", "type": "nominal", "axis": null}, "y": {"datum": 308.5}, "text": {"field": "label"}, "color": {"field": "s", "type": "nominal", "legend": null}}}
]}
]
}
